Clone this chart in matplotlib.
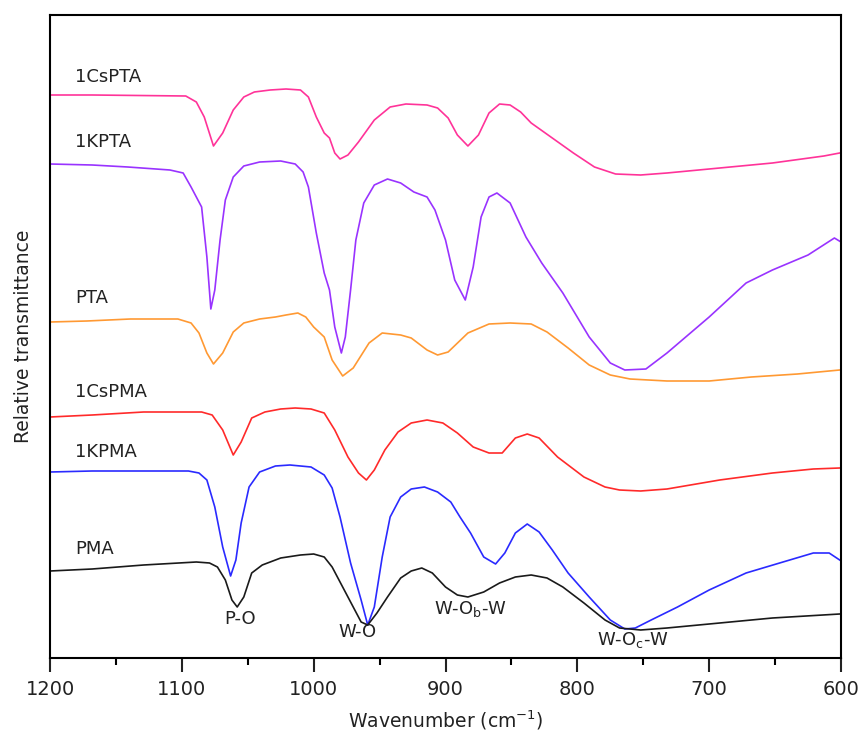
import matplotlib
matplotlib.use("Agg")
import matplotlib.pyplot as plt
import numpy as np

# wavenumber (cm-1) / relative transmittance (a.u., offset per sample)
wn_cspta = [1200, 1168, 1097, 1089, 1083, 1076, 1069, 1061, 1053, 1045, 1033, 1021, 1010, 1004, 998,
            992, 988, 984, 980, 974, 966, 954, 942, 930, 914, 906, 898, 891, 883, 875, 867, 859,
            851, 843, 835, 819, 803, 787, 771, 752, 732, 692, 652, 613, 601]
t_cspta = [56.3, 56.3, 56.2, 55.6, 54.1, 51.2, 52.5, 54.8, 56.1, 56.6, 56.8, 56.9, 56.8, 56.1, 54.1,
           52.5, 52.0, 50.5, 49.9, 50.3, 51.6, 53.8, 55.1, 55.4, 55.3, 55.0, 54.0, 52.3, 51.2, 52.3,
           54.5, 55.4, 55.3, 54.6, 53.5, 52.0, 50.5, 49.1, 48.4, 48.3, 48.5, 49.0, 49.5, 50.2, 50.5]

wn_kpta = [1200, 1168, 1141, 1109, 1099, 1093, 1085, 1081, 1078, 1075, 1071, 1067, 1061, 1053, 1041,
           1025, 1014, 1008, 1004, 998, 992, 988, 984, 979, 976, 972, 968, 962, 954, 944, 934, 924,
           914, 908, 900, 893, 885, 879, 873, 867, 861, 851, 839, 827, 811, 791, 775, 764, 748, 732,
           700, 672, 652, 625, 605, 600]
t_kpta = [49.4, 49.3, 49.1, 48.8, 48.5, 47.1, 45.1, 40.1, 34.9, 36.8, 41.8, 45.8, 48.1, 49.2, 49.6,
          49.7, 49.4, 48.6, 47.1, 42.5, 38.5, 36.8, 33.1, 30.5, 32.1, 36.8, 41.8, 45.5, 47.3, 47.9,
          47.5, 46.6, 46.1, 44.8, 41.8, 37.8, 35.8, 39.1, 44.1, 46.1, 46.5, 45.5, 42.1, 39.5, 36.5,
          32.1, 29.5, 28.8, 28.9, 30.5, 34.1, 37.5, 38.8, 40.3, 42.0, 41.6]

wn_pta = [1200, 1172, 1139, 1103, 1093, 1087, 1081, 1076, 1069, 1061, 1053, 1041, 1029, 1021, 1012,
          1006, 1000, 992, 986, 978, 970, 958, 948, 934, 926, 914, 906, 898, 883, 867, 851, 835,
          823, 807, 791, 775, 760, 732, 700, 668, 633, 601]
t_pta = [33.6, 33.7, 33.9, 33.9, 33.5, 32.5, 30.5, 29.4, 30.5, 32.6, 33.5, 33.9, 34.1, 34.3, 34.5,
         34.1, 33.1, 32.1, 29.8, 28.2, 29.0, 31.5, 32.5, 32.3, 32.0, 30.8, 30.3, 30.6, 32.5, 33.4,
         33.5, 33.4, 32.6, 31.0, 29.3, 28.3, 27.9, 27.7, 27.7, 28.1, 28.4, 28.8]

wn_cspma = [1200, 1168, 1129, 1085, 1077, 1069, 1061, 1055, 1047, 1037, 1025, 1014, 1002, 992, 984,
            974, 966, 960, 954, 946, 936, 926, 914, 902, 891, 879, 867, 857, 847, 838, 829, 815,
            795, 779, 768, 752, 732, 692, 652, 621, 601]
t_cspma = [24.1, 24.3, 24.6, 24.6, 24.3, 22.8, 20.3, 21.6, 24.0, 24.6, 24.9, 25.0, 24.9, 24.5, 22.8,
           20.1, 18.5, 17.8, 18.8, 20.8, 22.6, 23.5, 23.8, 23.5, 22.5, 21.1, 20.5, 20.5, 22.0, 22.4,
           22.0, 20.1, 18.1, 17.1, 16.8, 16.7, 16.9, 17.8, 18.5, 18.9, 19.0]

wn_kpma = [1200, 1168, 1129, 1095, 1087, 1081, 1075, 1069, 1063, 1059, 1055, 1049, 1041, 1029, 1018,
           1002, 992, 986, 980, 972, 964, 959, 954, 948, 942, 934, 926, 916, 906, 896, 889, 881,
           871, 862, 855, 847, 838, 829, 819, 807, 791, 775, 764, 756, 744, 724, 700, 672, 644,
           621, 609, 601]
t_kpma = [18.6, 18.7, 18.7, 18.7, 18.5, 17.8, 15.1, 11.1, 8.2, 9.8, 13.5, 17.1, 18.6, 19.2, 19.3,
          19.1, 18.3, 17.0, 14.1, 9.5, 5.8, 3.3, 5.1, 10.1, 14.1, 16.1, 16.9, 17.1, 16.6, 15.6,
          14.1, 12.5, 10.1, 9.4, 10.5, 12.5, 13.4, 12.6, 10.8, 8.5, 6.1, 3.8, 2.9, 3.0, 3.8, 5.1,
          6.8, 8.5, 9.6, 10.5, 10.5, 9.8]

wn_pma = [1200, 1168, 1129, 1089, 1079, 1073, 1067, 1062, 1058, 1053, 1047, 1039, 1025, 1010, 1000,
          992, 986, 978, 970, 964, 959, 952, 944, 934, 926, 918, 910, 900, 891, 883, 871, 859,
          847, 835, 823, 811, 795, 779, 768, 752, 732, 692, 652, 601]
t_pma = [8.7, 8.9, 9.3, 9.6, 9.5, 9.1, 7.8, 5.8, 5.1, 6.1, 8.5, 9.3, 10.0, 10.3, 10.4,
         10.1, 9.1, 7.1, 5.1, 3.6, 3.3, 4.5, 6.1, 8.0, 8.7, 9.0, 8.5, 7.1, 6.3, 6.1, 6.6, 7.5,
         8.1, 8.3, 8.0, 7.1, 5.5, 3.8, 3.0, 2.8, 3.0, 3.5, 4.0, 4.4]

names = ["1CsPTA", "1KPTA", "PTA", "1CsPMA", "1KPMA", "PMA"]
colors = ["#ff3399", "#9933ff", "#ff9933", "#ff2a2a", "#2a2aff", "#1a1a1a"]
label_y = [58.1, 51.6, 36.0, 26.6, 20.6, 10.9]

bands = ["P-O", "W-O", "W-O$_\\mathrm{b}$-W", "W-O$_\\mathrm{c}$-W"]
band_x = [1056, 967, 881, 758]
band_y = [3.9, 2.6, 4.9, 1.8]

series = [(wn_cspta, t_cspta), (wn_kpta, t_kpta), (wn_pta, t_pta),
          (wn_cspma, t_cspma), (wn_kpma, t_kpma), (wn_pma, t_pma)]

plt.rcParams['font.family'] = ['DejaVu Sans']
plt.rcParams['mathtext.fontset'] = 'dejavusans'

fig = plt.figure(figsize=(8.66, 7.45), dpi=100)
ax = fig.add_axes([50/866, (745-658)/745, 791/866, 643/745])

for (x, y), c in zip(series, colors):
    ax.plot(x, y, color=c, lw=1.2)

for n, c, ly in zip(names, colors, label_y):
    ax.text(1181, ly, n, fontsize=13, color="#222222", ha="left", va="center")

for b, bx, by in zip(bands, band_x, band_y):
    ax.text(bx, by, b, fontsize=13, color="#222222", ha="center", va="center")

ax.set_xlim(1200, 600)
ax.set_ylim(0, 64.3)
ax.set_xticks(np.arange(1200, 599, -100))
ax.set_xticks(np.arange(1150, 600, -100), minor=True)
ax.set_yticks([])
ax.tick_params(axis='x', which='major', direction='out', length=10, width=1.5,
               labelsize=14, pad=6, colors="#222222")
ax.tick_params(axis='x', which='minor', direction='out', length=5, width=1.5)
for s in ax.spines.values():
    s.set_linewidth(1.5)
ax.set_xlabel("Wavenumber (cm$^{-1}$)", fontsize=13.5, color="#222222", labelpad=7)
ax.set_ylabel("Relative transmittance", fontsize=13.5, color="#222222", labelpad=12)

fig.savefig("out.png", dpi=100)
